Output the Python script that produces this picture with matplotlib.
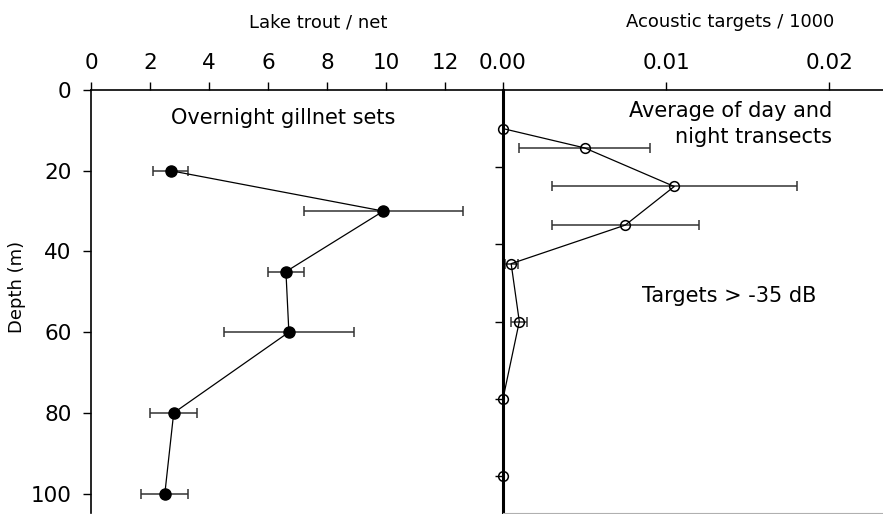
import numpy as np
import matplotlib
matplotlib.use("Agg")
import matplotlib.pyplot as plt

plt.rcParams['font.family'] = ['DejaVu Sans']

# gillnet catch (left panel)
trout_depth = [20, 30, 45, 60, 80, 100]
trout_mean = [2.7, 9.9, 6.6, 6.7, 2.8, 2.5]
trout_err = [0.6, 2.7, 0.6, 2.2, 0.8, 0.8]

# acoustic targets (right panel)
acoustic_depth = [10, 15, 25, 35, 45, 60, 80, 100]
acoustic_mean = [0.0, 0.0050, 0.0105, 0.0075, 0.0005, 0.0010, 0.0, 0.0]
acoustic_err = [0.0, 0.0040, 0.0075, 0.0045, 0.0004, 0.0005, 0.0, 0.0]

fig = plt.figure(figsize=(8.83, 5.14), dpi=100)
ax1 = fig.add_axes([91/883, 1/514, 412/883, 423/514])
ax2 = fig.add_axes([503/883, 1/514, 380/883, 423/514])

# left panel
ax1.errorbar(trout_mean, trout_depth, xerr=trout_err, fmt='none',
             ecolor='#333333', elinewidth=1.1, capsize=3.5, capthick=1.1)
ax1.plot(trout_mean, trout_depth, '-o', color='black', lw=0.9,
         markersize=8, zorder=3)
ax1.set_xlim(0, 13.95)
ax1.set_ylim(104.8, 0)
ax1.xaxis.tick_top()
ax1.xaxis.set_label_position('top')
ax1.set_xticks(np.arange(0, 13, 2))
ax1.set_yticks(np.arange(0, 101, 20))
ax1.tick_params(axis='x', direction='out', length=6, width=1, labelsize=15.5, pad=6)
ax1.tick_params(axis='y', direction='out', length=6, width=1, labelsize=15.5, pad=8)
ax1.set_xlabel('Lake trout / net', fontsize=13)
ax1.xaxis.set_label_coords(0.551, 1.148)
ax1.set_ylabel('Depth (m)', fontsize=13)
ax1.yaxis.set_label_coords(-0.158, 0.534)
for s in ['right', 'bottom']:
    ax1.spines[s].set_visible(False)
for s in ['top', 'left']:
    ax1.spines[s].set_linewidth(1.2)
ax1.text(6.5, 7, 'Overnight gillnet sets', fontsize=15, ha='center', va='center')

# right panel
ax2.errorbar(acoustic_mean, acoustic_depth, xerr=acoustic_err, fmt='none',
             ecolor='#333333', elinewidth=1.1, capsize=3.5, capthick=1.1)
ax2.plot(acoustic_mean, acoustic_depth, '-o', color='black', lw=0.9,
         markersize=7, markerfacecolor='none', markeredgewidth=1.1,
         zorder=3, clip_on=False)
ax2.set_xlim(0, 0.0233)
ax2.set_ylim(109.6, 0)
ax2.xaxis.tick_top()
ax2.xaxis.set_label_position('top')
ax2.set_xticks([0.0, 0.01, 0.02])
ax2.set_xticklabels(['0.00', '0.01', '0.02'])
ax2.set_yticks(np.arange(20, 101, 20))
ax2.set_yticklabels([])
ax2.tick_params(axis='x', direction='out', length=6, width=1, labelsize=15.5, pad=6)
ax2.tick_params(axis='y', direction='out', length=6, width=1)
ax2.set_xlabel('Acoustic targets / 1000', fontsize=13)
ax2.xaxis.set_label_coords(0.597, 1.148)
ax2.spines['right'].set_visible(False)
ax2.spines['left'].set_linewidth(2.2)
ax2.spines['top'].set_linewidth(1.2)
ax2.spines['bottom'].set_color('#b0b0b0')
ax2.text(0.0202, 8.8, 'Average of day and\nnight transects', fontsize=15,
         ha='right', va='center', multialignment='right', linespacing=1.4)
ax2.text(0.0085, 53.3, 'Targets > -35 dB', fontsize=15, ha='left', va='center')

fig.savefig('out.png', dpi=100)
